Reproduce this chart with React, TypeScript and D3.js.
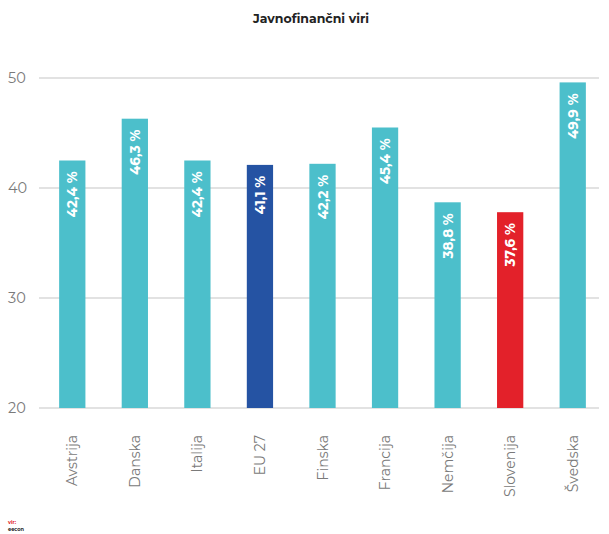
import React from "react";
import * as d3 from "d3";

const categories = ["Avstrija", "Danska", "Italija", "EU 27", "Finska", "Francija", "Nemčija", "Slovenija", "Švedska"];
const values = [42.5, 46.3, 42.5, 42.1, 42.2, 45.5, 38.7, 37.8, 49.6];
const valueLabels = ["42,4 %", "46,3 %", "42,4 %", "41,1 %", "42,2 %", "45,4 %", "38,8 %", "37,6 %", "49,9 %"];
const yTicks = [20, 30, 40, 50];
const title = "Javnofinančni viri";

const W = 609, H = 534;
const teal = "#4cbfcb";
const colorFor = (c: string) => (c === "EU 27" ? "#2553a3" : c === "Slovenija" ? "#e3212a" : teal);

export default function App() {
  const x = d3.scaleBand<string>().domain(categories).range([41, 604]).paddingInner(0.58).paddingOuter(0.29);
  const y = d3.scaleLinear().domain([20, 50]).range([408, 78]);
  const font = "Montserrat, 'DejaVu Sans', Arial, sans-serif";
  return (
    <div style={{ position: "absolute", left: 0, top: 0 }}>
      <svg width={W} height={H} style={{ display: "block", background: "#fff" }}>
        <text x={311} y={23} textAnchor="middle" fontFamily={font} fontSize={12.5} fontWeight="bold" fill="#222">{title}</text>
        {yTicks.map((t) => (
          <g key={t}>
            <line x1={39} x2={599} y1={y(t)} y2={y(t)} stroke="#d9d9d9" strokeWidth={1.5} />
            <text x={8} y={y(t) + 5} fontFamily={font} fontSize={14.5} fill="#7a7a7a">{t}</text>
          </g>
        ))}
        {categories.map((c, i) => {
          const bx = x(c)!;
          const bw = x.bandwidth();
          const cx = bx + bw / 2;
          return (
            <g key={c}>
              <rect x={bx} y={y(values[i])} width={bw} height={y(20) - y(values[i])} fill={colorFor(c)} />
              <text transform={`translate(${cx + 5},${y(values[i]) + 11}) rotate(-90)`} textAnchor="end" fontFamily={font} fontSize={13.5} fontWeight="bold" fill="#fff">{valueLabels[i]}</text>
              <text transform={`translate(${cx + 5},${435}) rotate(-90)`} textAnchor="end" fontFamily={font} fontSize={14} fill="#7a7a7a">{c}</text>
            </g>
          );
        })}
        <text x={8} y={524} fontFamily={font} fontSize={5} fontWeight="bold" fill="#e3212a">vir:</text>
        <text x={8} y={531} fontFamily={font} fontSize={5} fontWeight="bold" fill="#222">eecon</text>
      </svg>
    </div>
  );
}
